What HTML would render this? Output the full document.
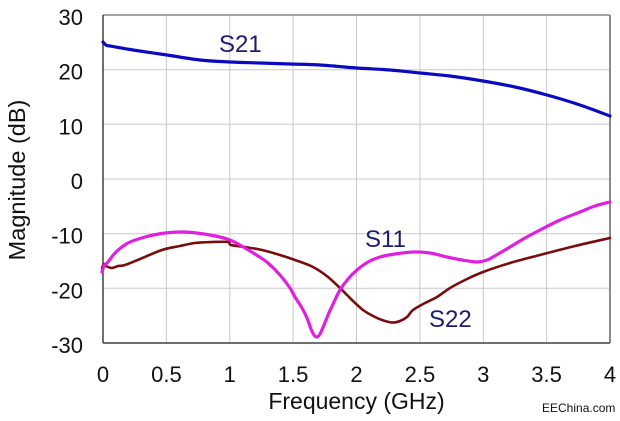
<!DOCTYPE html>
<html>
<head>
<meta charset="utf-8">
<style>
  html,body{margin:0;padding:0;background:#fff;}
  svg{display:block;}
  text{font-family:"Liberation Sans",Arial,sans-serif;}
</style>
</head>
<body>
<svg id="chart" width="620" height="421" viewBox="0 0 620 421" xmlns="http://www.w3.org/2000/svg">
  <rect width="620" height="421" fill="#fff"/>
  <!-- grid -->
  <g stroke="#c8c8c8" stroke-width="1" fill="none">
    <line x1="166.4" y1="15" x2="166.4" y2="343"/>
    <line x1="229.8" y1="15" x2="229.8" y2="343"/>
    <line x1="293.1" y1="15" x2="293.1" y2="343"/>
    <line x1="356.5" y1="15" x2="356.5" y2="343"/>
    <line x1="419.9" y1="15" x2="419.9" y2="343"/>
    <line x1="483.3" y1="15" x2="483.3" y2="343"/>
    <line x1="546.6" y1="15" x2="546.6" y2="343"/>
    <line x1="103" y1="69.7" x2="610" y2="69.7"/>
    <line x1="103" y1="124.3" x2="610" y2="124.3"/>
    <line x1="103" y1="179" x2="610" y2="179"/>
    <line x1="103" y1="233.7" x2="610" y2="233.7"/>
    <line x1="103" y1="288.3" x2="610" y2="288.3"/>
  </g>
  <!-- frame -->
  <line x1="103" y1="15" x2="610" y2="15" stroke="#8a8a8a" stroke-width="1.5"/>
  <line x1="610" y1="15" x2="610" y2="343" stroke="#8a8a8a" stroke-width="2"/>
  <line x1="103" y1="15" x2="103" y2="343" stroke="#404040" stroke-width="1.5"/>
  <line x1="103" y1="343" x2="610" y2="343" stroke="#404040" stroke-width="1.5"/>

  <!-- S21 -->
  <polyline class="crv" fill="none" stroke="#0a0ac0" stroke-width="3.2" stroke-linejoin="round" stroke-linecap="round"
    points="103,42 106,45 110,46 133,50 167,55 200,60 230,62 260,63 290,64 320,65 357,68 390,70 420,73 450,76 483,81 515,87 547,95 580,105 610,116"/>
  <!-- S22 -->
  <polyline class="crv" fill="none" stroke="#7a0c0c" stroke-width="2.6" stroke-linejoin="round" stroke-linecap="round"
    points="102,268 104,264 106,266 112,268 118,266 125,265 140,259 162,250 180,246 195,243 212,242 228,242 231,245 245,247 262,250 280,255 295,260 313,267 328,277 342,290 352,300 363,310 375,317 385,321 393,322.5 400,321 407,317 413,310 425,303 437,297 450,288 465,280 483,272 510,263 540,255 575,246 610,238"/>
  <!-- S11 -->
  <polyline class="crv" fill="none" stroke="#e020e0" stroke-width="3.2" stroke-linejoin="round" stroke-linecap="round"
    points="102,272 104,266 108,262 116,252 128,243 145,237 165,233 185,232 210,235 230,240 245,248 258,256 268,263 280,275 290,288 295,297 302,308 307,318 311,329 314,335 317,337 320,334 324,325 328,315 334,302 340,290 348,279 357,270 368,262 380,257 395,254 413,252 430,253 447,257 462,260 477,262 487,260 493,257 510,247 525,238 540,230 560,220 580,212 595,206 610,202"/>

  <!-- y tick labels -->
  <g font-size="22" fill="#111" text-anchor="end">
    <text x="83" y="25">30</text>
    <text x="83" y="79.7">20</text>
    <text x="83" y="134.3">10</text>
    <text x="83" y="189">0</text>
    <text x="83" y="243.7">-10</text>
    <text x="83" y="298.3">-20</text>
    <text x="83" y="353">-30</text>
  </g>
  <!-- x tick labels -->
  <g font-size="22" fill="#111" text-anchor="middle">
    <text x="103" y="382">0</text>
    <text x="166.4" y="382">0.5</text>
    <text x="229.8" y="382">1</text>
    <text x="293.1" y="382">1.5</text>
    <text x="356.5" y="382">2</text>
    <text x="419.9" y="382">2.5</text>
    <text x="483.3" y="382">3</text>
    <text x="546.6" y="382">3.5</text>
    <text x="610" y="382">4</text>
  </g>
  <!-- axis titles -->
  <text x="356.5" y="409" font-size="23" fill="#111" text-anchor="middle">Frequency (GHz)</text>
  <text transform="translate(25,180) rotate(-90)" font-size="23.5" fill="#111" text-anchor="middle">Magnitude (dB)</text>

  <!-- series labels -->
  <g font-size="24" fill="#1c1c70">
    <text x="219" y="52">S21</text>
    <text x="365" y="247">S11</text>
    <text x="429" y="327">S22</text>
  </g>

  <text x="542" y="412" font-size="12" fill="#111">EEChina.com</text>
</svg>
<script>
(function(){
  var ns="http://www.w3.org/2000/svg";
  var els=document.querySelectorAll("polyline.crv");
  for(var k=0;k<els.length;k++){
    var pl=els[k];
    var pts=pl.getAttribute("points").trim().split(/\s+/).map(function(s){var a=s.split(",");return [parseFloat(a[0]),parseFloat(a[1])];});
    var d="M"+pts[0][0]+","+pts[0][1];
    for(var i=0;i<pts.length-1;i++){
      var p0=pts[i>0?i-1:i],p1=pts[i],p2=pts[i+1],p3=pts[i+2<pts.length?i+2:i+1];
      var c1x=p1[0]+(p2[0]-p0[0])/6,c1y=p1[1]+(p2[1]-p0[1])/6;
      var c2x=p2[0]-(p3[0]-p1[0])/6,c2y=p2[1]-(p3[1]-p1[1])/6;
      d+=" C"+c1x.toFixed(2)+","+c1y.toFixed(2)+" "+c2x.toFixed(2)+","+c2y.toFixed(2)+" "+p2[0]+","+p2[1];
    }
    var p=document.createElementNS(ns,"path");
    p.setAttribute("d",d);
    ["fill","stroke","stroke-width","stroke-linejoin","stroke-linecap"].forEach(function(a){p.setAttribute(a,pl.getAttribute(a));});
    pl.parentNode.replaceChild(p,pl);
  }
})();
</script>
</body>
</html>
